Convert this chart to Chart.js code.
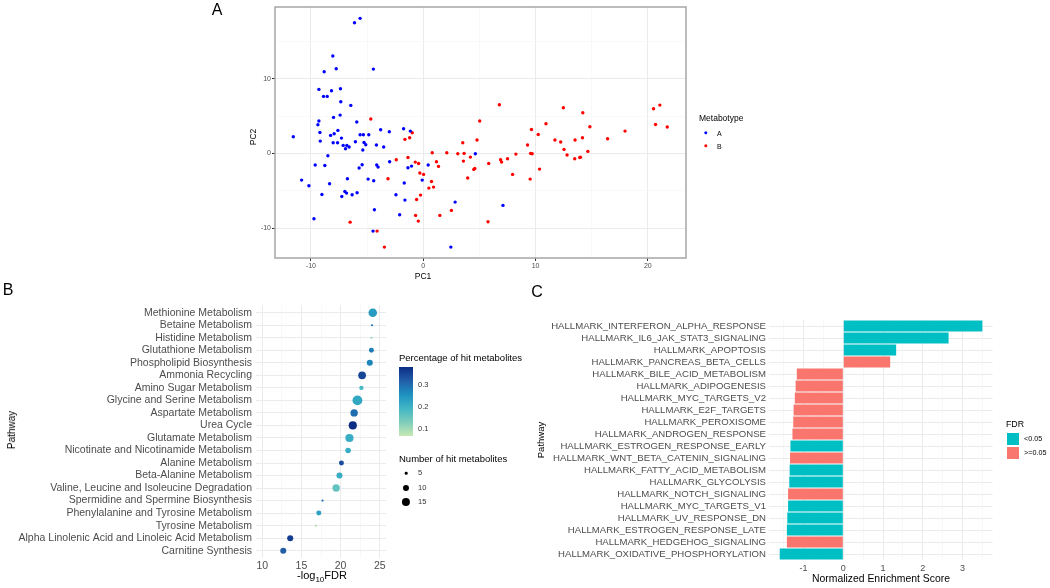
<!DOCTYPE html>
<html>
<head>
<meta charset="utf-8">
<script src="https://cdn.jsdelivr.net/npm/chart.js@4.4.1/dist/chart.umd.min.js"></script>
<style>
body { margin: 0; background: #fff; font-family: "Liberation Sans", Arial, sans-serif; }
#fig { position: relative; width: 1050px; height: 588px; overflow: hidden; }
#fig canvas { position: absolute; left: 0; top: 0; }
.t { position: absolute; white-space: nowrap; color: #000; line-height: 1; }
.c { transform: translate(-50%, -50%); }
.l { transform: translate(0, -50%); }
.rot { transform: translate(-50%, -50%) rotate(-90deg); }
.dot { position: absolute; border-radius: 50%; transform: translate(-50%, -50%); }
.key { position: absolute; width: 12px; height: 12px; }
</style>
</head>
<body>
<div id="fig">
    <canvas id="chartA" width="1050" height="588"></canvas>
    <canvas id="chartB" width="1050" height="588"></canvas>
    <canvas id="chartC" width="1050" height="588"></canvas>

    <div class="t c" style="left:217px;top:10px;font-size:16px;">A</div>
    <div class="t c" style="left:8px;top:290px;font-size:16px;">B</div>
    <div class="t c" style="left:537px;top:292px;font-size:16px;">C</div>

    <!-- panel A -->
    <div class="t rot" style="left:253px;top:137px;font-size:8.5px;">PC2</div>
    <div class="t c" style="left:423px;top:276px;font-size:8.5px;">PC1</div>
    <div class="t l" style="left:699px;top:118px;font-size:8.5px;">Metabotype</div>
    <div class="dot" style="left:706px;top:133px;width:3.4px;height:3.4px;background:#0000ff;"></div>
    <div class="t l" style="left:717px;top:133px;font-size:7px;">A</div>
    <div class="dot" style="left:706px;top:146px;width:3.4px;height:3.4px;background:#ff0000;"></div>
    <div class="t l" style="left:717px;top:146px;font-size:7px;">B</div>

    <!-- panel B -->
    <div class="t rot" style="left:12px;top:430px;font-size:10px;">Pathway</div>
    <div class="t c" style="left:322px;top:577px;font-size:11px;">-log<sub style="font-size:8px;">10</sub>FDR</div>
    <div class="t l" style="left:399px;top:358px;font-size:9.5px;">Percentage of hit metabolites</div>
    <div id="colorbar" style="position:absolute;left:399px;top:367px;width:14px;height:69px;"></div>
    <div class="t l" style="left:418px;top:385px;font-size:7.5px;color:#333;">0.3</div>
    <div class="t l" style="left:418px;top:407px;font-size:7.5px;color:#333;">0.2</div>
    <div class="t l" style="left:418px;top:429px;font-size:7.5px;color:#333;">0.1</div>
    <div class="t l" style="left:399px;top:459px;font-size:9.5px;">Number of hit metabolites</div>
    <div id="sizeLegend"></div>

    <!-- panel C -->
    <div class="t rot" style="left:541px;top:440px;font-size:9.5px;">Pathway</div>
    <div class="t c" style="left:881px;top:579px;font-size:10.4px;">Normalized Enrichment Score</div>
    <div class="t l" style="left:1006px;top:424px;font-size:8.8px;">FDR</div>
    <div class="key" style="left:1007px;top:433px;background:#00BFC4;"></div>
    <div class="t l" style="left:1024px;top:439px;font-size:7.2px;">&lt;0.05</div>
    <div class="key" style="left:1007px;top:447px;background:#F8766D;"></div>
    <div class="t l" style="left:1024px;top:453px;font-size:7.2px;">&gt;=0.05</div>
</div>

<script>
// ---- panel A: PCA scores [PC1, PC2]
const metabotypeA = [
    [-11.57, 2.23], [-10.83, -3.57], [-10.18, -4.33], [-9.73, -8.75], [-9.62, -1.56], [-9.38, 3.84],
    [-9.29, 4.33], [-9.29, 8.57], [-9.2, 2.81], [-9.17, 1.65], [-9.02, -5.49], [-8.88, 7.63],
    [-8.82, 10.94], [-8.76, -1.61], [-8.55, 7.63], [-8.49, -0.31], [-8.34, -4.06], [-8.25, 2.41],
    [-8.17, 8.39], [-8.05, 13.04], [-8.02, 1.43], [-7.99, 4.82], [-7.93, 2.63], [-7.75, 11.34],
    [-7.63, 1.43], [-7.6, 3.08], [-7.4, 5.13], [-7.37, 8.66], [-7.34, 6.92], [-7.28, 2.05],
    [-7.25, -5.76], [-7.13, 1.07], [-6.98, -5.09], [-6.92, 0.62], [-6.83, -5.31], [-6.8, 1.07],
    [-6.75, -3.39], [-6.6, 0.85], [-6.45, 6.43], [-6.33, -5.54], [-6.12, 17.5], [-6.04, 1.56],
    [-5.92, 4.2], [-5.89, -5.27], [-5.71, -1.96], [-5.62, 18.08], [-5.62, 2.5], [-5.44, -1.52],
    [-5.38, 0.45], [-5.33, 2.5], [-5.27, 1.47], [-5.12, 1.16], [-4.91, -3.44], [-4.85, 2.5],
    [-4.47, -10.4], [-4.44, 11.29], [-4.41, -3.66], [-4.35, -7.54], [-4.17, 1.12], [-4.14, -1.56],
    [-4.02, -1.83], [-3.79, 3.17], [-3.52, 0.85], [-3.02, 2.9], [-2.99, -1.12], [-2.43, -5.54],
    [-2.1, -8.21], [-1.75, 3.3], [-1.69, -3.97], [-1.63, -6.25], [-1.36, -1.92], [-1.15, 2.99],
    [-1.04, -1.7], [-0.09, -3.57], [0.44, -1.56], [2.46, -12.54], [2.84, -6.52], [4.64, -0.04],
    [7.1, -6.96]
];
const metabotypeB = [
    [-6.51, -9.2], [-4.67, 4.6], [-4.11, -10.4], [-3.46, -12.54], [-3.14, -3.39], [-2.4, -0.85],
    [-1.63, 1.88], [-1.36, -0.54], [-1.21, 2.1], [-0.98, 2.77], [-0.71, -1.16], [-0.68, -8.3],
    [-0.59, -6.16], [-0.44, -9.06], [-0.41, -1.34], [-0.3, -2.63], [-0.24, -5.58], [0.03, -2.81],
    [0.5, -4.64], [0.74, -3.75], [0.8, 0.09], [0.92, -4.51], [1.18, -1.12], [1.36, -1.74],
    [1.48, -8.3], [2.1, 0.09], [2.51, -7.63], [3.08, -0.04], [3.52, 1.43], [3.58, -1.03],
    [3.64, 0], [3.96, -3.3], [4.2, -0.49], [4.5, -2.14], [4.59, -2.01], [4.79, 1.79],
    [5.03, 4.33], [5.77, -9.15], [5.83, -1.34], [6.78, 6.52], [6.89, -0.85], [6.98, -1.16],
    [7.51, -0.71], [7.96, -2.81], [8.25, -0.09], [9.29, 1.12], [9.52, -3.44], [9.56, 0],
    [9.64, 3.21], [9.7, -0.04], [10.24, 2.54], [10.36, -2.1], [10.93, 3.97], [11.73, 1.79],
    [12.24, 1.52], [12.48, 6.12], [12.54, 0.54], [12.81, -0.22], [13.49, -0.71], [13.52, 1.79],
    [13.94, -0.54], [14.0, -0.5], [14.18, 2.1], [14.21, 5.45], [14.66, 0.27], [14.84, 3.57],
    [16.42, 1.96], [17.97, 2.99], [20.51, 5.98], [20.69, 3.88], [21.07, 6.47], [21.73, 3.53]
];

// ---- panel B: pathway enrichment (top to bottom)
const pathways = [
    'Methionine Metabolism', 'Betaine Metabolism', 'Histidine Metabolism', 'Glutathione Metabolism',
    'Phospholipid Biosynthesis', 'Ammonia Recycling', 'Amino Sugar Metabolism', 'Glycine and Serine Metabolism',
    'Aspartate Metabolism', 'Urea Cycle', 'Glutamate Metabolism', 'Nicotinate and Nicotinamide Metabolism',
    'Alanine Metabolism', 'Beta-Alanine Metabolism', 'Valine, Leucine and Isoleucine Degradation',
    'Spermidine and Spermine Biosynthesis', 'Phenylalanine and Tyrosine Metabolism', 'Tyrosine Metabolism',
    'Alpha Linolenic Acid and Linoleic Acid Metabolism', 'Carnitine Synthesis'
];
const negLogFdr = [24.11, 24.02, 23.94, 23.94, 23.73, 22.75, 22.66, 22.15, 21.73, 21.56,
                   21.13, 20.96, 20.11, 19.86, 19.43, 17.69, 17.22, 16.84, 13.57, 12.68];
const hitPct = [0.24, 0.30, 0.12, 0.28, 0.27, 0.35, 0.19, 0.22, 0.30, 0.38,
                0.21, 0.21, 0.34, 0.21, 0.16, 0.30, 0.23, 0.09, 0.36, 0.32];
const hitCount = [16, 4, 4, 8, 10, 14, 7, 20, 13, 15, 15, 9, 8, 10, 13, 4, 8, 4, 10, 10];
const sizeBreaks = [5, 10, 15];

// ---- panel C: GSEA hallmarks (top to bottom)
const hallmarks = [
    'HALLMARK_INTERFERON_ALPHA_RESPONSE', 'HALLMARK_IL6_JAK_STAT3_SIGNALING', 'HALLMARK_APOPTOSIS',
    'HALLMARK_PANCREAS_BETA_CELLS', 'HALLMARK_BILE_ACID_METABOLISM', 'HALLMARK_ADIPOGENESIS',
    'HALLMARK_MYC_TARGETS_V2', 'HALLMARK_E2F_TARGETS', 'HALLMARK_PEROXISOME', 'HALLMARK_ANDROGEN_RESPONSE',
    'HALLMARK_ESTROGEN_RESPONSE_EARLY', 'HALLMARK_WNT_BETA_CATENIN_SIGNALING', 'HALLMARK_FATTY_ACID_METABOLISM',
    'HALLMARK_GLYCOLYSIS', 'HALLMARK_NOTCH_SIGNALING', 'HALLMARK_MYC_TARGETS_V1', 'HALLMARK_UV_RESPONSE_DN',
    'HALLMARK_ESTROGEN_RESPONSE_LATE', 'HALLMARK_HEDGEHOG_SIGNALING', 'HALLMARK_OXIDATIVE_PHOSPHORYLATION'
];
const nes = [3.50, 2.65, 1.33, 1.18, -1.17, -1.20, -1.22, -1.25, -1.26, -1.28,
             -1.33, -1.34, -1.35, -1.36, -1.39, -1.39, -1.41, -1.42, -1.42, -1.60];
const fdrGroup = ['<0.05', '<0.05', '<0.05', '>=0.05', '>=0.05', '>=0.05', '>=0.05', '>=0.05', '>=0.05', '>=0.05',
                  '<0.05', '>=0.05', '<0.05', '<0.05', '>=0.05', '<0.05', '<0.05', '<0.05', '>=0.05', '<0.05'];

Chart.defaults.font.family = '"Liberation Sans", Arial, sans-serif';
Chart.defaults.color = '#4d4d4d';

// colour ramp for % of hit metabolites
const pctMin = 0.071, pctMax = 0.381;
const rampStops = [[0, '#c7e9b4'], [0.2, '#7fcdbb'], [0.4, '#41b6c4'], [0.6, '#1d91c0'], [0.8, '#225ea8'], [1, '#0c2c84']];

function hexToRgb(h) {
    return [1, 3, 5].map(i => parseInt(h.substr(i, 2), 16));
}

function colorOf(v) {
    let t = Math.min(1, Math.max(0, (v - pctMin) / (pctMax - pctMin)));
    for (let i = 1; i < rampStops.length; i++) {
        if (t <= rampStops[i][0]) {
            const [t0, c0] = rampStops[i - 1];
            const [t1, c1] = rampStops[i];
            const f = (t - t0) / (t1 - t0);
            const a = hexToRgb(c0), b = hexToRgb(c1);
            const rgb = a.map((x, k) => Math.round(x + (b[k] - x) * f));
            return `rgb(${rgb.join(',')})`;
        }
    }
    return rampStops[rampStops.length - 1][1];
}

function sizeOf(n) {
    return Math.sqrt(Math.max(1.5 * n - 5.8, 1.2));
}

// legends for panel B
document.getElementById('colorbar').style.background =
    'linear-gradient(to top, ' + rampStops.map(s => `${s[1]} ${s[0] * 100}%`).join(', ') + ')';

const sizeLegend = document.getElementById('sizeLegend');
sizeBreaks.forEach((n, i) => {
    const y = 473 + i * 14.5;
    const r = sizeOf(n);
    sizeLegend.innerHTML +=
        `<div class="dot" style="left:406px;top:${y}px;width:${2 * r}px;height:${2 * r}px;background:#000;"></div>` +
        `<div class="t l" style="left:418px;top:${y}px;font-size:7.5px;color:#333;">${n}</div>`;
});

// grey frame round panel A
const panelFrame = {
    id: 'panelFrame',
    afterDatasetsDraw(chart) {
        const { ctx, chartArea: a } = chart;
        ctx.save();
        ctx.strokeStyle = '#a6a6a6';
        ctx.lineWidth = 1.5;
        ctx.strokeRect(a.left, a.top, a.right - a.left, a.bottom - a.top);
        ctx.restore();
    }
};

const isMajor = (c, step) => c.tick && Math.abs(c.tick.value / step - Math.round(c.tick.value / step)) < 1e-6;

const common = {
    responsive: false,
    animation: false,
    devicePixelRatio: 1,
    events: [],
    plugins: { legend: { display: false }, tooltip: { enabled: false } }
};

// Panel A
new Chart(document.getElementById('chartA'), {
    type: 'scatter',
    data: {
        datasets: [
            { data: metabotypeA.map(p => ({ x: p[0], y: p[1] })), backgroundColor: '#0000ff', pointRadius: 1.7, borderWidth: 0 },
            { data: metabotypeB.map(p => ({ x: p[0], y: p[1] })), backgroundColor: '#ff0000', pointRadius: 1.7, borderWidth: 0 }
        ]
    },
    options: {
        ...common,
        layout: { padding: { left: 255, top: 7, right: 1050 - 686, bottom: 588 - 258 - 20 } },
        scales: {
            x: {
                type: 'linear', min: -13.2, max: 23.4,
                afterFit: s => { s.height = 20; },
                border: { display: false },
                grid: {
                    color: c => isMajor(c, 10) ? '#ebebeb' : '#f5f5f5',
                    lineWidth: c => isMajor(c, 10) ? 1 : 0.6,
                    tickLength: 3,
                    tickColor: c => isMajor(c, 10) ? '#333' : 'rgba(0,0,0,0)'
                },
                ticks: {
                    stepSize: 5, includeBounds: false, autoSkip: false, maxRotation: 0, padding: 1,
                    font: { size: 7 },
                    callback: v => (Math.abs(v % 10) < 1e-6 ? v : '')
                }
            },
            y: {
                type: 'linear', min: -14, max: 19.6,
                afterFit: s => { s.width = 20; },
                border: { display: false },
                grid: {
                    color: c => isMajor(c, 10) ? '#ebebeb' : '#f5f5f5',
                    lineWidth: c => isMajor(c, 10) ? 1 : 0.6,
                    tickLength: 3,
                    tickColor: c => isMajor(c, 10) ? '#333' : 'rgba(0,0,0,0)'
                },
                ticks: {
                    stepSize: 5, includeBounds: false, autoSkip: false, padding: 1,
                    font: { size: 7 },
                    callback: v => (Math.abs(v % 10) < 1e-6 ? v : '')
                }
            }
        }
    },
    plugins: [panelFrame]
});

// Panel B
new Chart(document.getElementById('chartB'), {
    type: 'scatter',
    data: {
        datasets: [{
            data: pathways.map((p, i) => ({ x: negLogFdr[i], y: i + 1 })),
            pointRadius: hitCount.map(sizeOf),
            backgroundColor: hitPct.map(colorOf),
            borderWidth: 0
        }]
    },
    options: {
        ...common,
        layout: { padding: { left: 0, top: 305.2, right: 1050 - 386, bottom: 588 - 558.2 - 18 } },
        scales: {
            x: {
                type: 'linear', min: 9.2, max: 25.8,
                afterFit: s => { s.height = 18; },
                border: { display: false },
                grid: {
                    drawTicks: false,
                    color: c => isMajor(c, 5) ? '#ebebeb' : '#f4f4f4',
                    lineWidth: c => isMajor(c, 5) ? 1 : 0.6
                },
                ticks: {
                    stepSize: 2.5, includeBounds: false, autoSkip: false, maxRotation: 0, padding: 2,
                    font: { size: 10.5 },
                    callback: v => (Math.abs(v % 5) < 1e-6 ? v : '')
                }
            },
            y: {
                type: 'linear', reverse: true, min: 0.4, max: 20.6,
                afterFit: s => { s.width = 256; },
                border: { display: false },
                grid: { drawTicks: false, color: '#ebebeb' },
                ticks: {
                    stepSize: 1, includeBounds: false, autoSkip: false, padding: 4,
                    font: { size: 10.5 },
                    callback: v => pathways[Math.round(v) - 1]
                }
            }
        }
    }
});

// Panel C
new Chart(document.getElementById('chartC'), {
    type: 'bar',
    data: {
        labels: hallmarks,
        datasets: [{
            data: nes,
            backgroundColor: fdrGroup.map(g => g === '<0.05' ? '#00BFC4' : '#F8766D'),
            barPercentage: 0.9,
            categoryPercentage: 1
        }]
    },
    options: {
        ...common,
        indexAxis: 'y',
        layout: { padding: { left: 0, top: 320, right: 1050 - 992.7, bottom: 588 - 560 - 18 } },
        scales: {
            x: {
                type: 'linear', min: -1.87, max: 3.76,
                afterFit: s => { s.height = 18; },
                border: { display: false },
                grid: {
                    drawTicks: false,
                    color: c => isMajor(c, 1) ? '#ebebeb' : '#f4f4f4',
                    lineWidth: c => isMajor(c, 1) ? 1 : 0.6
                },
                ticks: {
                    stepSize: 0.5, includeBounds: false, autoSkip: false, maxRotation: 0, padding: 3,
                    font: { size: 9 },
                    callback: v => (Math.abs(v % 1) < 1e-6 ? v : '')
                }
            },
            y: {
                afterFit: s => { s.width = 769; },
                border: { display: false },
                grid: { offset: false, drawTicks: false, color: '#ebebeb' },
                ticks: { autoSkip: false, padding: 3, font: { size: 9.6 } }
            }
        }
    }
});
</script>
</body>
</html>
